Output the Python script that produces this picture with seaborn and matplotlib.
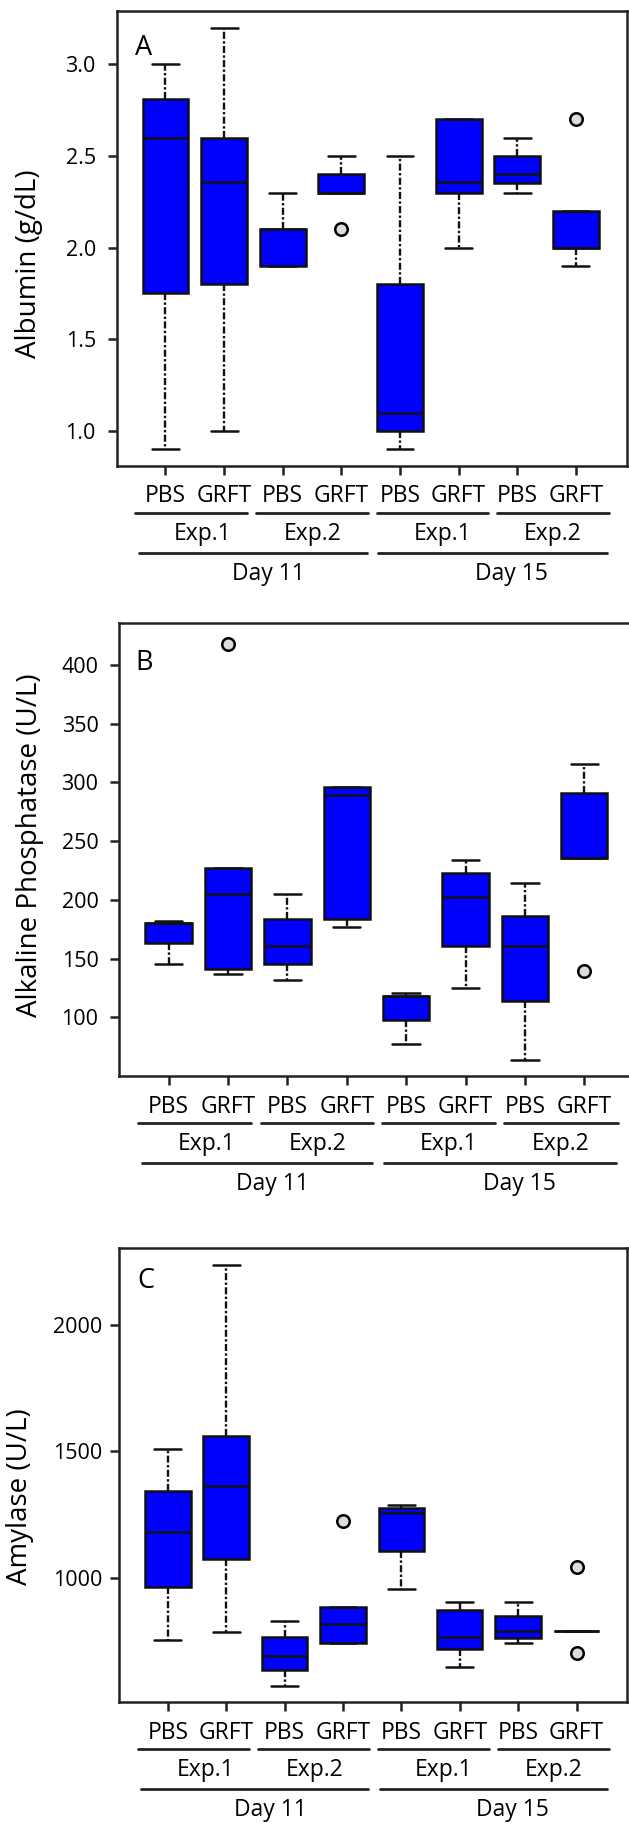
import pandas as pd
import seaborn as sns
import matplotlib.pyplot as plt

# groups in plotting order (day / experiment / treatment)
groups = ["d11_e1_pbs", "d11_e1_grft", "d11_e2_pbs", "d11_e2_grft",
          "d15_e1_pbs", "d15_e1_grft", "d15_e2_pbs", "d15_e2_grft"]
treatments = ["PBS", "GRFT", "PBS", "GRFT", "PBS", "GRFT", "PBS", "GRFT"]
experiments = ["Exp.1", "Exp.2", "Exp.1", "Exp.2"]
days = ["Day 11", "Day 15"]

# five-number summaries: whisker low, Q1, median, Q3, whisker high
albumin = [
    [0.90, 1.75, 2.60, 2.81, 3.00],
    [1.00, 1.80, 2.355, 2.60, 3.20],
    [1.90, 1.90, 2.10, 2.10, 2.30],
    [2.30, 2.30, 2.30, 2.40, 2.50],
    [0.90, 1.00, 1.10, 1.80, 2.50],
    [2.00, 2.30, 2.36, 2.70, 2.70],
    [2.30, 2.35, 2.40, 2.50, 2.60],
    [1.90, 2.00, 2.00, 2.20, 2.20],
]
albumin_out_idx = [3, 7]
albumin_out = [2.1, 2.7]
albumin_ticks = [1.0, 1.5, 2.0, 2.5, 3.0]
albumin_labels = ["1.0", "1.5", "2.0", "2.5", "3.0"]

alp = [
    [145, 163, 180, 180, 182],
    [137, 141, 205, 227, 227],
    [132, 145, 161, 184, 205],
    [177, 184, 289, 296, 296],
    [77, 98, 118, 118, 121],
    [125, 161, 202, 223, 234],
    [64, 114, 161, 186, 214],
    [236, 236, 236, 291, 316],
]
alp_out_idx = [1, 7]
alp_out = [418, 139]
alp_ticks = [100, 150, 200, 250, 300, 350, 400]
alp_labels = ["100", "150", "200", "250", "300", "350", "400"]

amylase = [
    [756, 966, 1182, 1342, 1511],
    [787, 1075, 1362, 1562, 2237],
    [575, 635, 692, 766, 830],
    [744, 744, 820, 885, 885],
    [956, 1106, 1256, 1278, 1289],
    [648, 721, 768, 872, 904],
    [745, 763, 789, 851, 904],
    [789, 789, 789, 789, 789],
]
amylase_out_idx = [3, 7, 7]
amylase_out = [1227, 1044, 705]
amylase_ticks = [1000, 1500, 2000]
amylase_labels = ["1000", "1500", "2000"]

sns.set_style("ticks")
plt.rcParams["font.family"] = ["Open Sans", "DejaVu Sans"]
plt.rcParams["text.color"] = "black"
plt.rcParams["axes.labelcolor"] = "black"
plt.rcParams["xtick.labelcolor"] = "black"
plt.rcParams["ytick.labelcolor"] = "black"

W, H = 629, 1827
fig = plt.figure(figsize=(W / 100, H / 100), dpi=100)


def px_axes(left, top, right, bottom):
    return fig.add_axes([left / W, 1 - bottom / H, (right - left) / W, (bottom - top) / H])


def panel(ax, box, out_idx, out_vals, ticks, tick_labels, ylim, ylabel, letter,
          letter_pos, label_pos, ypad):
    df = pd.DataFrame({
        "group": [g for g, b in zip(groups, box) for _ in b],
        "value": [v for b in box for v in b],
    })
    sns.boxplot(data=df, x="group", y="value", order=groups, width=0.78,
                color="#0000ff", saturation=1, linecolor="#111111", linewidth=1.8,
                whis=(0, 100), showfliers=False,
                whiskerprops={"linestyle": (0, (3, 1, 1, 1)), "linewidth": 1.7},
                ax=ax)
    # widen the whisker caps a little
    for ln in ax.lines:
        xs, ys = ln.get_xdata(), ln.get_ydata()
        if len(xs) == 2 and ys[0] == ys[1] and abs(abs(xs[1] - xs[0]) - 0.39) < 0.02:
            c = (xs[0] + xs[1]) / 2
            ln.set_xdata([c - 0.23, c + 0.23])

    fl = pd.DataFrame({"group": [groups[i] for i in out_idx], "value": out_vals})
    sns.stripplot(data=fl, x="group", y="value", order=groups, jitter=False,
                  color="#dcdcdc", edgecolor="black", linewidth=1.8, size=9, ax=ax)

    ax.set_xlim(-0.83, 7.87)
    ax.set_ylim(*ylim)
    ax.set_yticks(ticks)
    ax.set_yticklabels(tick_labels, fontsize=15.5)
    ax.set_xticks(range(len(groups)))
    ax.set_xticklabels(treatments, fontsize=16.5)
    ax.set_xlabel("")
    ax.set_ylabel(ylabel, fontsize=20)
    ax.yaxis.set_label_coords(*label_pos)
    ax.yaxis.label.set_va("center")
    ax.tick_params(axis="both", direction="out", length=6.5, width=1.8, color="#222222")
    ax.tick_params(axis="x", pad=7)
    ax.tick_params(axis="y", pad=ypad)
    for s in ax.spines.values():
        s.set_visible(True)
        s.set_linewidth(1.8)
        s.set_color("#222222")

    ax.text(letter_pos[0], letter_pos[1], letter, transform=ax.transAxes,
            fontsize=19.5, ha="left", va="top")

    # grouping lines and labels under the axis
    h = ax.get_window_extent().height
    tr = ax.get_xaxis_transform()
    exp_spans = [(-0.51, 1.39), (1.55, 3.45), (3.60, 5.50), (5.65, 7.56)]
    exp_x = [0.64, 2.51, 4.72, 6.60]
    day_spans = [(-0.45, 3.43), (3.63, 7.53)]
    day_x = [1.75, 5.90]
    for (a, b), x, t in zip(exp_spans, exp_x, experiments):
        ax.plot([a, b], [-47.3 / h] * 2, transform=tr, clip_on=False,
                color="#222222", lw=2)
        ax.text(x, -74.3 / h, t, transform=tr, ha="center", va="baseline", fontsize=16.5)
    for (a, b), x, t in zip(day_spans, day_x, days):
        ax.plot([a, b], [-87.3 / h] * 2, transform=tr, clip_on=False,
                color="#222222", lw=2)
        ax.text(x, -114.3 / h, t, transform=tr, ha="center", va="baseline", fontsize=16.5)


ax_a = px_axes(116.7, 11, 627, 465.7)
ax_b = px_axes(119.3, 622.7, 636, 1076)
ax_c = px_axes(119.3, 1248.3, 627.3, 1702)

panel(ax_a, albumin, albumin_out_idx, albumin_out, albumin_ticks, albumin_labels,
      (0.81, 3.29), "Albumin (g/dL)", "A", (0.036, 0.950), (-0.172, 0.445), 8.5)
panel(ax_b, alp, alp_out_idx, alp_out, alp_ticks, alp_labels,
      (50, 436), "Alkaline Phosphatase (U/L)", "B", (0.031, 0.943), (-0.172, 0.51), 8.5)
panel(ax_c, amylase, amylase_out_idx, amylase_out, amylase_ticks, amylase_labels,
      (510, 2303), "Amylase (U/L)", "C", (0.035, 0.958), (-0.195, 0.452), 5.5)

fig.savefig("out.png", dpi=100)
